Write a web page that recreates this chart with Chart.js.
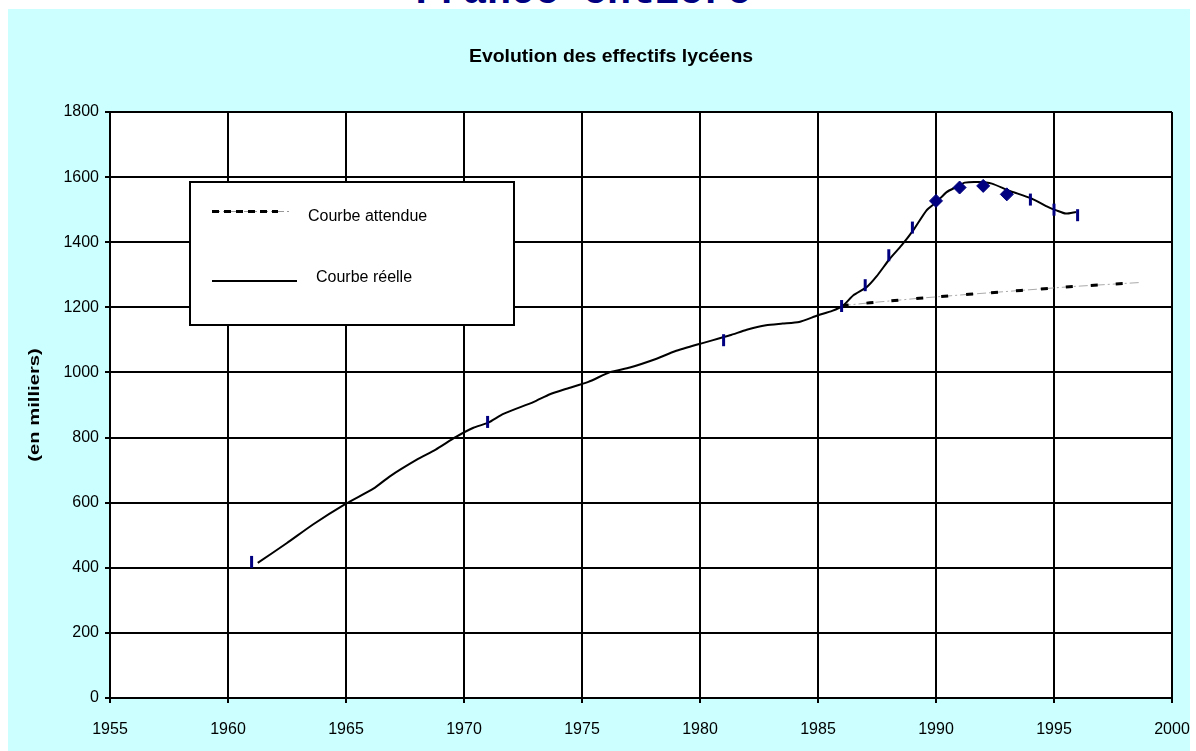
<!DOCTYPE html>
<html>
<head>
<meta charset="utf-8">
<script src="https://cdn.jsdelivr.net/npm/chart.js@4.4.0/dist/chart.umd.min.js"></script>
<style>
  body { margin: 0; background: #fff; width: 1196px; height: 751px; overflow: hidden; position: relative; }
  #titre { position: absolute; left: 415px; top: -27px; font: bold 40px "Liberation Mono", monospace; line-height: 40px; color: #000080; white-space: nowrap; }
  #cadre { position: absolute; left: 8px; top: 9px; width: 1182px; height: 742px; background: #ccffff; }
  #graphCanvas { position: absolute; left: 8px; top: 9px; }
</style>
</head>
<body>
<div id="titre">France entière</div>
<div id="cadre"></div>
<canvas id="graphCanvas" width="1188" height="742"></canvas>
<script>
// courbe reelle
var annees = [1961.26, 1962.5, 1963.6, 1965.0, 1966.16, 1966.86, 1968.0, 1968.8, 1969.66, 1970.4,
    1971.03, 1971.67, 1972.94, 1973.64, 1974.35, 1975.27, 1976.19, 1977.03, 1978.16, 1978.94,
    1980.0, 1981.27, 1981.98, 1982.8, 1983.5, 1984.2, 1984.98, 1985.6, 1986.07, 1986.5,
    1987.06, 1987.48, 1988.05, 1988.54, 1989.04, 1989.6, 1990.03, 1990.45, 1990.87, 1991.22,
    1991.8, 1992.37, 1993.07, 1994.06, 1994.76, 1995.1, 1995.5, 1995.93];
var reelle = [415, 476, 533, 597, 643, 681, 732, 763, 802, 830,
    846, 873, 909, 933, 950, 971, 1001, 1015, 1042, 1065,
    1088, 1114, 1131, 1145, 1150, 1155, 1175, 1189, 1206, 1237,
    1262, 1295, 1350, 1390, 1437, 1498, 1524, 1554, 1570, 1583,
    1585, 1580, 1559, 1534, 1508, 1498, 1488, 1493];

// mesures (tirets bleus)
var anneesMesures = [1961, 1971, 1981, 1986, 1987, 1988, 1989, 1994, 1995, 1996];
var mesures = [418, 848, 1099, 1204, 1268, 1360, 1445, 1531, 1500, 1483];

// mesures (losanges)
var anneesLosanges = [1990, 1991, 1992, 1993];
var losanges = [1527, 1568, 1573, 1547];

// courbe attendue
var anneesAttendue = [1986, 1987.2, 1989.3, 1991.4, 1993.6, 1995.8, 1998.6];
var attendue = [1205, 1214, 1228, 1240, 1252, 1264, 1276];

function points(xs, ys) {
    var res = [];
    for (var i = 0; i < xs.length; i++) {
        res.push({x: xs[i], y: ys[i]});
    }
    return res;
}

var police = '"Liberation Sans", Arial, sans-serif';

var decor = {
    id: 'decor',
    beforeDraw: function (chart) {
        var ctx = chart.ctx, a = chart.chartArea;
        ctx.save();
        ctx.fillStyle = '#fff';
        ctx.fillRect(a.left, a.top, a.right - a.left, a.bottom - a.top);
        ctx.restore();
    },
    afterDraw: function (chart) {
        var ctx = chart.ctx;
        ctx.save();
        ctx.fillStyle = '#000';
        ctx.textAlign = 'center';
        ctx.textBaseline = 'middle';
        // titre (un peu elargi comme sur l'original)
        ctx.save();
        ctx.translate(603, 48);
        ctx.scale(1.08, 1);
        ctx.font = 'bold 18px ' + police;
        ctx.fillText('Evolution des effectifs lycéens', 0, 0);
        ctx.restore();
        // titre axe y
        ctx.save();
        ctx.translate(27, 396);
        ctx.rotate(-Math.PI / 2);
        ctx.scale(1.35, 1);
        ctx.font = 'bold 15px ' + police;
        ctx.fillText('(en milliers)', 0, 0);
        ctx.restore();

        // legende
        ctx.fillStyle = '#fff';
        ctx.fillRect(182, 173, 324, 143);
        ctx.strokeStyle = '#000';
        ctx.lineWidth = 2;
        ctx.strokeRect(182, 173, 324, 143);

        ctx.strokeStyle = '#999';
        ctx.lineWidth = 1;
        ctx.setLineDash([8, 3, 2, 3]);
        ctx.beginPath(); ctx.moveTo(204, 202.5); ctx.lineTo(284, 202.5); ctx.stroke();
        ctx.strokeStyle = '#000';
        ctx.lineWidth = 3;
        ctx.setLineDash([7, 5]);
        ctx.beginPath(); ctx.moveTo(204, 202.5); ctx.lineTo(270, 202.5); ctx.stroke();
        ctx.setLineDash([]);
        ctx.lineWidth = 2;
        ctx.beginPath(); ctx.moveTo(204, 272); ctx.lineTo(289, 272); ctx.stroke();

        ctx.fillStyle = '#000';
        ctx.font = '16px ' + police;
        ctx.textAlign = 'left';
        ctx.fillText('Courbe attendue', 300, 208);
        ctx.fillText('Courbe réelle', 308, 269);
        ctx.restore();
    }
};

var grille = {color: '#000', lineWidth: 2, tickLength: 5, tickColor: '#000'};

window.grafica = new Chart(document.getElementById('graphCanvas'), {
    type: 'line',
    data: {
        datasets: [
            {
                label: 'Mesures',
                data: points(anneesMesures, mesures),
                showLine: false,
                pointStyle: 'line',
                rotation: 90,
                pointRadius: 6,
                borderColor: '#000080',
                borderWidth: 3,
                order: 0
            },
            {
                label: 'Mesures 2',
                data: points(anneesLosanges, losanges),
                showLine: false,
                pointStyle: 'rectRot',
                pointRadius: 6.5,
                backgroundColor: '#000080',
                borderColor: '#000080',
                borderWidth: 1,
                order: 0
            },
            {
                label: 'Courbe réelle',
                data: points(annees, reelle),
                borderColor: '#000',
                borderWidth: 2,
                pointRadius: 0,
                tension: 0.2,
                fill: false,
                order: 1
            },
            {
                label: 'Courbe attendue',
                data: points(anneesAttendue, attendue),
                borderColor: '#000',
                borderWidth: 3,
                borderDash: [7, 18],
                pointRadius: 0,
                fill: false,
                order: 2
            },
            {
                label: 'Courbe attendue (fond)',
                data: points(anneesAttendue, attendue),
                borderColor: '#aaa',
                borderWidth: 1,
                borderDash: [9, 3, 2, 3],
                pointRadius: 0,
                fill: false,
                order: 3
            }
        ]
    },
    options: {
        responsive: false,
        animation: false,
        layout: {padding: {left: 40, right: 24, top: 103, bottom: 0}},
        plugins: {
            legend: {display: false},
            tooltip: {enabled: false},
            title: {display: false}
        },
        scales: {
            x: {
                type: 'linear',
                min: 1955,
                max: 2000,
                grid: grille,
                border: {color: '#000', width: 2},
                ticks: {
                    stepSize: 5,
                    padding: 17,
                    color: '#000',
                    font: {size: 16, family: police},
                    maxRotation: 0,
                    callback: function (v) { return String(v); }
                },
                afterFit: function (s) { s.height = 53; s.paddingLeft = 0; s.paddingRight = 0; }
            },
            y: {
                min: 0,
                max: 1800,
                grid: grille,
                border: {color: '#000', width: 2},
                ticks: {
                    stepSize: 200,
                    padding: 6,
                    color: '#000',
                    font: {size: 16, family: police},
                    callback: function (v) { return String(v); }
                },
                afterFit: function (s) { s.width = 62; }
            }
        }
    },
    plugins: [decor]
});
</script>
</body>
</html>
